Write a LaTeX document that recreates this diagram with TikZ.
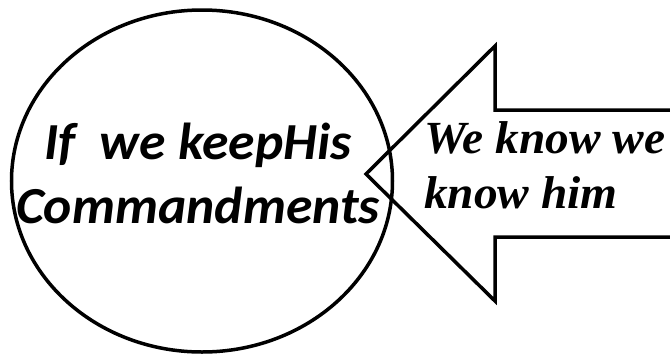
\documentclass[tikz,border=0pt]{standalone}
\usepackage{fontspec}
\newfontfamily\calibrifont[FakeStretch=1.03]{Carlito}
\newfontfamily\timesfont[FakeStretch=1.03]{Liberation Serif}
\usetikzlibrary{shapes.geometric, positioning, calc}

\begin{document}
\begin{tikzpicture}[x=1pt, y=-1pt,
		outline/.style={draw=black, line width=3.5pt},
		oval/.style={ellipse, outline, minimum width=381pt, minimum height=342pt, inner sep=0pt},
		keeptext/.style={align=center, inner sep=0pt,
			font=\calibrifont\bfseries\itshape\fontsize{52}{64}\selectfont},
		knowtext/.style={align=left, inner sep=0pt,
			font=\timesfont\bfseries\itshape\fontsize{46}{55}\selectfont}
		]
		\useasboundingbox (0,0) rectangle (670,360);
		\clip (0,0) rectangle (670,360);
		
		\node[oval] (circ) at (202,181) {};
		\node[keeptext, anchor=north] (keep) at (198,123)
		{If\ \ we keepHis\\Commandments};
		
		\coordinate (tip) at (366,174);
		\coordinate (headtop) at (495,46);
		\coordinate (shafttop) at (495,110);
		\coordinate (endtop) at (690,110);
		\coordinate (endbot) at (690,237);
		\coordinate (shaftbot) at (495,237);
		\coordinate (headbot) at (495,301);
		\draw[outline, line join=miter] (tip) -- (headtop) -- (shafttop) -- (endtop)
		-- (endbot) -- (shaftbot) -- (headbot) -- cycle;
		
		\node[knowtext, anchor=north west] (know) at (424,121)
		{We know we\\know him};
	\end{tikzpicture}
\end{document}
